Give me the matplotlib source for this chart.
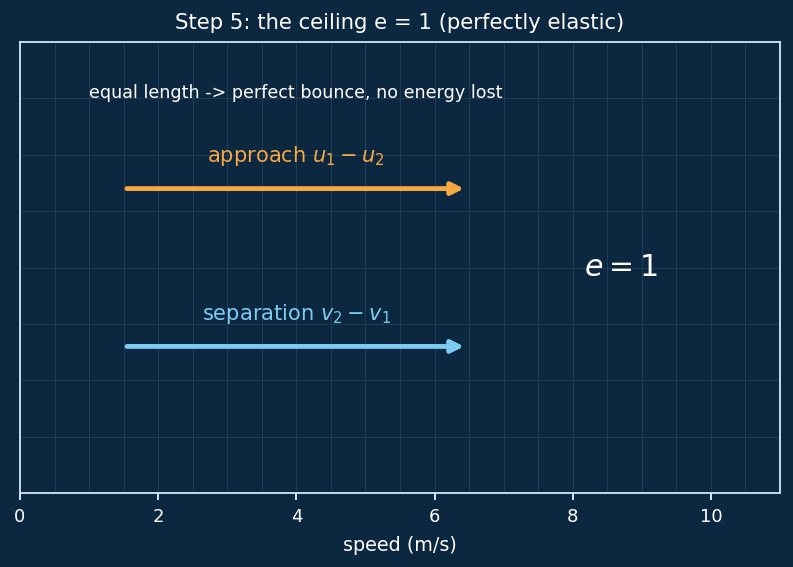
import matplotlib
matplotlib.use("Agg")
import matplotlib.pyplot as plt
import numpy as np

# data
arrow_labels = ["approach $u_1 - u_2$", "separation $v_2 - v_1$"]
arrow_colors = ["#f5a742", "#7ecbf2"]
arrow_start = [1.5, 1.5]
arrow_end = [6.5, 6.5]
arrow_y = [2.7, 1.3]
xticks = [0, 2, 4, 6, 8, 10]

BG = "#0c2740"
FG = "#cfe3f5"

DPI = 120
fig = plt.figure(figsize=(793 / DPI, 567 / DPI), dpi=DPI, facecolor=BG)
ax = fig.add_axes([0.0252, 0.1305, 0.9584, 0.7954])
ax.set_facecolor(BG)
ax.set_xlim(0, 11)
ax.set_ylim(0, 4)

ax.set_xticks(xticks)
ax.set_xticks(np.arange(0, 11.01, 0.5), minor=True)
ax.set_yticks(np.arange(0, 4.01, 0.5))
ax.tick_params(axis='x', which='major', colors=FG, labelsize=10.8, length=4, width=1.2, pad=5)
ax.tick_params(axis='x', which='minor', length=0)
ax.tick_params(axis='y', which='both', left=False, labelleft=False)
for lab in ax.get_xticklabels():
    lab.set_color("white")
ax.grid(True, which='both', color="#2c4a66", linewidth=0.6, alpha=0.6)
ax.set_axisbelow(True)
for s in ax.spines.values():
    s.set_color(FG)
    s.set_linewidth(1.1)

for lbl, c, x0, x1, y in zip(arrow_labels, arrow_colors, arrow_start, arrow_end, arrow_y):
    ax.annotate("", xy=(x1, y), xytext=(x0, y),
                arrowprops=dict(arrowstyle="-|>,head_length=0.6,head_width=0.3",
                                color=c, lw=2.9, capstyle='round',
                                joinstyle='round', shrinkB=3))
    ax.text((x0 + x1) / 2, y + 0.29, lbl, color=c, fontsize=12.6,
            ha='center', va='center')

ax.text(1.0, 3.55, "equal length -> perfect bounce, no energy lost",
        color="white", fontsize=10.5, ha='left', va='center')
ax.text(8.7, 2.0, "$e = 1$", color="white", fontsize=18, ha='center', va='center')

ax.set_title("Step 5: the ceiling e = 1 (perfectly elastic)", color="white",
             fontsize=12.7, pad=8)
ax.set_xlabel("speed (m/s)", color="white", fontsize=11.5, labelpad=6)

fig.savefig("out.png", dpi=DPI, facecolor=BG)
